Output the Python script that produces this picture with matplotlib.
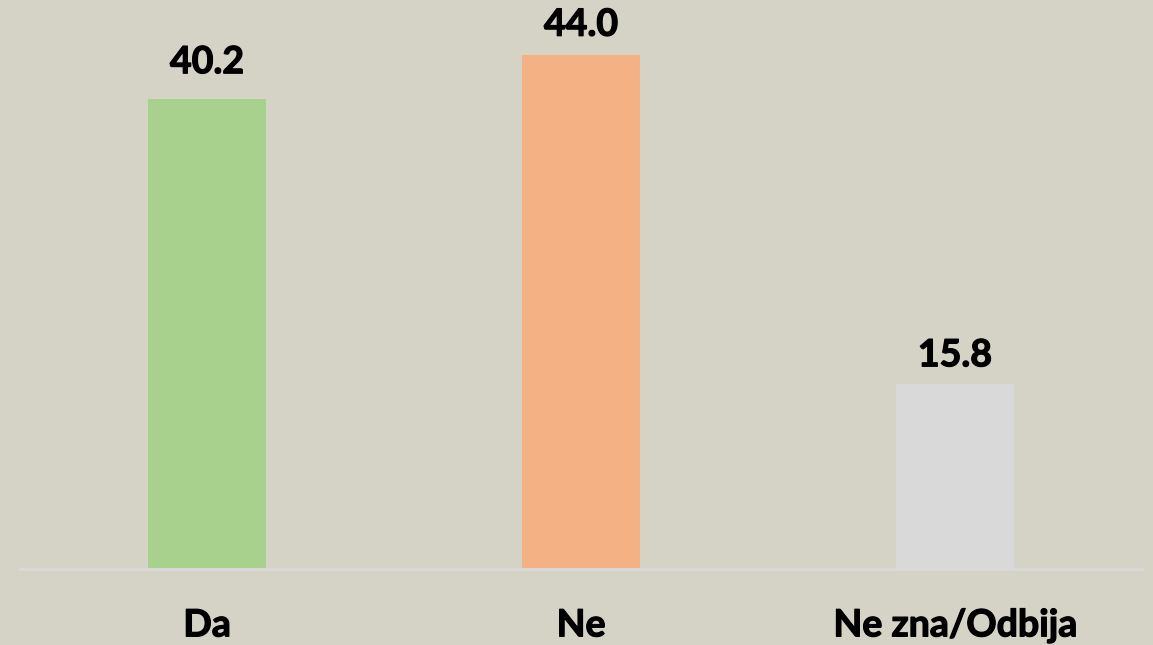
import matplotlib
matplotlib.use("Agg")
import matplotlib.pyplot as plt
import matplotlib.patheffects as pe

categories = ["Da", "Ne", "Ne zna/Odbija"]
values = [40.2, 44.0, 15.8]
value_labels = ["40.2", "44.0", "15.8"]
colors = ["#a9d18e", "#f4b183", "#d9d9d9"]

bg = "#d5d2c6"
W, H = 1153, 645
fig = plt.figure(figsize=(W / 100, H / 100), dpi=100, facecolor=bg)
ax = fig.add_axes([20 / W, (H - 569) / H, (1142 - 20) / W, 561 / H])
ax.set_facecolor(bg)

x = list(range(len(categories)))
ax.bar(x, values, width=0.315, color=colors, zorder=2)
ax.set_xlim(-0.5, 2.5)
ax.set_ylim(0, 48)

for s in ["top", "right", "left"]:
    ax.spines[s].set_visible(False)
ax.spines["bottom"].set_color("#d9d9d9")
ax.spines["bottom"].set_linewidth(2)
ax.set_yticks([])
ax.set_xticks([])

# vertical gap (points) between bar top and label baseline
label_gap = [18.7, 13.7, 13.0]

stroke = [pe.withStroke(linewidth=0.9, foreground="black")]
font = dict(family=["Lato", "DejaVu Sans"], weight="bold", size=27, color="black")
for i, (v, lab) in enumerate(zip(values, value_labels)):
    ax.annotate(lab, xy=(i, v), xytext=(0, label_gap[i]), textcoords="offset points",
                ha="center", va="baseline", path_effects=stroke, **font)
for i, c in enumerate(categories):
    ax.annotate(c, xy=(i, 0), xycoords=("data", "axes fraction"), xytext=(0, -48.5),
                textcoords="offset points", ha="center", va="baseline",
                annotation_clip=False, path_effects=stroke, **font)

fig.savefig("out.png", dpi=100, facecolor=bg)
